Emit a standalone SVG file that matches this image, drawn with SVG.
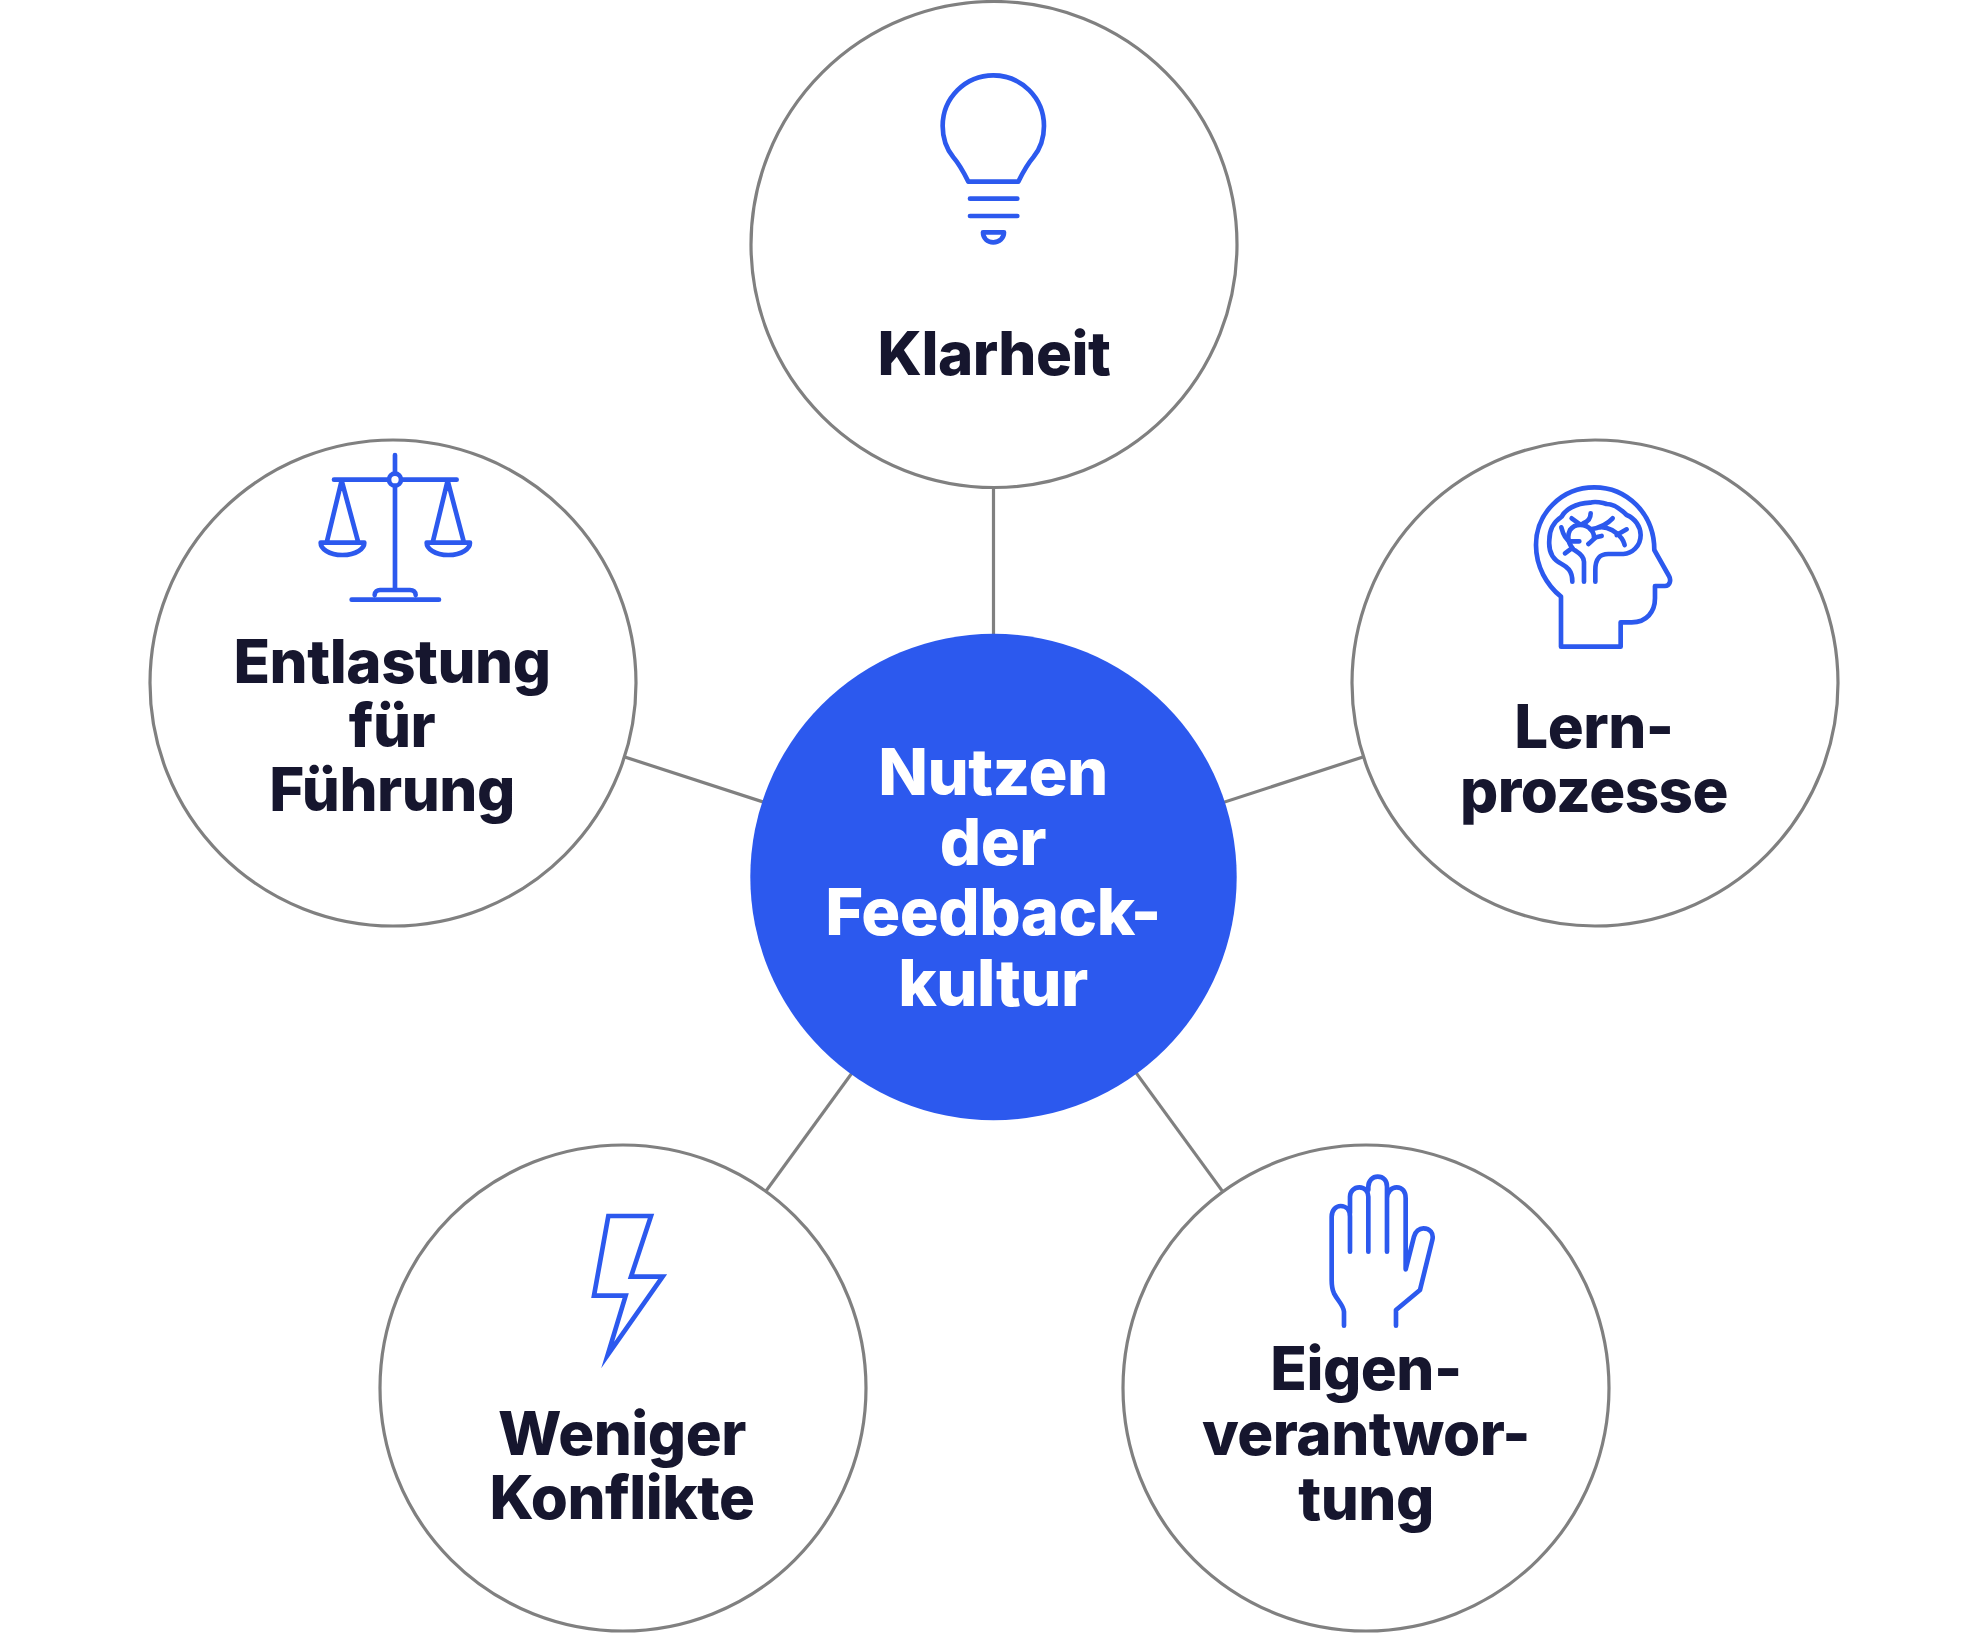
<svg xmlns="http://www.w3.org/2000/svg" width="1980" height="1636" viewBox="0 0 1980 1636">
<style>
.c{fill:#fff;stroke:#808080;stroke-width:3.2}
.l{stroke:#808080;stroke-width:3.2;fill:none}
.t{font-family:Inter,"Liberation Sans",sans-serif;font-weight:800;font-size:60px;letter-spacing:-.5px;fill:#16162e;text-anchor:middle}
.w{font-family:Inter,"Liberation Sans",sans-serif;font-weight:800;font-size:65px;letter-spacing:-.5px;fill:#fff;text-anchor:middle}
.i{fill:none;stroke:#2c59ee;stroke-width:14;stroke-linecap:round;stroke-linejoin:round}
</style>
<rect width="1980" height="1636" fill="#fff"/>
<g id="connectors">
<line class="l" x1="993.5" y1="878" x2="993.5" y2="245"/>
<line class="l" x1="994" y1="877" x2="392.5" y2="681.5"/>
<line class="l" x1="994" y1="877" x2="1595" y2="681.5"/>
<line class="l" x1="994" y1="878" x2="622.5" y2="1388"/>
<line class="l" x1="994" y1="878" x2="1366" y2="1388"/>
</g>
<g id="center"><circle cx="993.5" cy="877" r="243.2" fill="#2c59ee"/>
<text class="w" x="993" y="795">Nutzen</text><text class="w" x="993" y="865">der</text><text class="w" x="993" y="935">Feedback-</text><text class="w" x="993" y="1006" letter-spacing="-1">kultur</text></g>
<g id="klarheit"><circle class="c" cx="994" cy="244.5" r="243"/>
<g transform="translate(880 40) scale(.3333)"><path class="i" d="M265 425H415C430 395 440 375 460 352C482 325 492 295 492 258A152 152 0 0 0 188 258C188 295 198 325 220 352C240 375 250 395 265 425ZM270 476H412M270 528H412M309 577H372C372 595 358 607 340 607C322 607 309 595 309 577Z"/></g>
<text class="t" x="994" y="375" letter-spacing="-1">Klarheit</text></g>
<g id="lernprozesse"><circle class="c" cx="1595" cy="683" r="243"/>
<g transform="translate(1500 470) scale(.3333)"><path class="i" stroke-linecap="butt" d="M183 530H362V457H395C440 457 465 425 465 385V348H495C510 348 514 330 507 318L463 240C463 130 380 52 283 52C185 52 108 130 108 225C108 290 140 345 183 380Z"/></g>
<g transform="translate(1520 490) scale(.3333)"><path class="i" stroke-linecap="butt" d="M157 275C157 240 140 230 125 222C100 210 85 185 88 150C88 130 95 100 125 80C135 60 165 40 210 38C225 33 250 38 260 42C285 42 310 65 320 75C345 85 362 110 362 135C362 170 335 190 310 192H265C240 192 226 205 226 240V275M192 275V215C192 195 170 185 160 178C145 160 140 140 150 120C165 100 195 100 212 118"/>
<path class="i" d="M212 118C230 115 255 110 278 85M240 112C265 110 290 125 305 145C312 155 312 160 314 165M290 135L320 118M212 70C212 85 205 95 190 100M155 85L180 103M124 112C130 135 140 150 150 154H178M205 162C215 155 222 145 228 142L245 138M135 190L155 175M212 118C222 130 222 135 222 145"/></g>
<text class="t" x="1594" y="748">Lern-</text><text class="t" x="1594" y="812">prozesse</text></g>
<g id="entlastung"><circle class="c" cx="393" cy="683" r="243"/>
<g transform="translate(300 440) scale(.3333)"><path class="i" d="M285 45V98M102 119H265M305 119H470M285 140V450M224 465C224 455 232 450 240 450H330C340 450 347 455 347 465M155 479H417M125 122L80 308M125 122L175 308M62 308H193C193 325 170 345 127 345C85 345 62 325 62 308ZM443 122L398 308M443 122L492 308M380 308H510C510 325 487 345 445 345C403 345 380 325 380 308Z"/><circle class="i" cx="285" cy="119" r="18"/></g>
<text class="t" x="392" y="683">Entlastung</text><text class="t" x="392" y="747">für</text><text class="t" x="392" y="811">Führung</text></g>
<g id="konflikte"><circle class="c" cx="623" cy="1388" r="243"/>
<g transform="translate(560 1200) scale(.3333)"><path class="i" stroke-linecap="butt" style="stroke-linejoin:miter;stroke-miterlimit:10" d="M145 48H273L213 230H308L143 465L197 287H102Z"/></g>
<text class="t" x="622" y="1455">Weniger</text><text class="t" x="622" y="1519">Konflikte</text></g>
<g id="eigenverantwortung"><circle class="c" cx="1366" cy="1388" r="243"/>
<g transform="translate(1310 1170) scale(.3333)"><path class="i" stroke-linecap="butt" d="M102 467V425C100 405 85 395 72 370C65 355 65 345 65 330V140C65 120 78 108 92 108C108 108 120 120 120 140V245M120 130V80C120 65 132 52 148 52C165 52 175 65 175 80V245M175 60V50C175 32 188 20 203 20C220 20 231 32 231 50V245M231 85C231 65 245 52 260 52C277 52 287 65 287 85V298L312 200C316 185 328 175 340 175C360 175 372 190 367 210L330 360L258 420V467"/></g>
<text class="t" x="1366" y="1390">Eigen-</text><text class="t" x="1366" y="1455">verantwor-</text><text class="t" x="1366" y="1520">tung</text></g>
</svg>
